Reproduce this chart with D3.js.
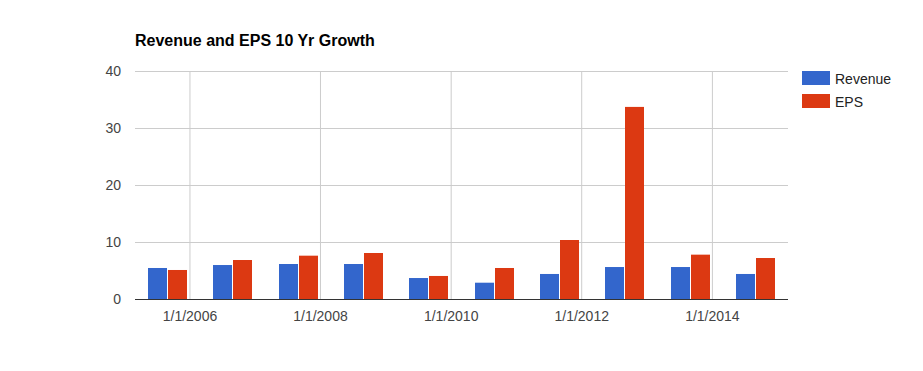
<!DOCTYPE html>
<html><head><meta charset="utf-8">
<script src="https://cdn.jsdelivr.net/npm/d3@7/dist/d3.min.js"></script>
<style>body{margin:0;background:#fff}svg{display:block;font-family:"Liberation Sans",Arial,sans-serif}</style>
</head><body><svg id="c" width="923" height="371"></svg>
<script>
const dates = ["2005-09-01","2006-09-01","2007-09-01","2008-09-01","2009-09-01","2010-09-01","2011-09-01","2012-09-01","2013-09-01","2014-09-01"];
const revenue = [5.44, 5.96, 6.14, 6.14, 3.68, 2.86, 4.39, 5.61, 5.61, 4.39];
const eps = [5.09, 6.84, 7.6, 8.07, 4.04, 5.44, 10.35, 33.7, 7.78, 7.19];
const yTicks = [0, 10, 20, 30, 40];
const xTickDates = ["2006-01-01","2008-01-01","2010-01-01","2012-01-01","2014-01-01"];
const seriesNames = ["Revenue", "EPS"];
const colors = ["#3366cc", "#dc3912"];

const parse = d3.utcParse("%Y-%m-%d");
const dts = dates.map(parse);
const L = 135, R = 788, T = 71, B = 299;
const half = (dts[dts.length-1] - dts[0]) / (dts.length - 1) / 2;
const x = d3.scaleUtc().domain([new Date(+dts[0] - half), new Date(+dts[dts.length-1] + half)]).range([L, R]);
const y = d3.scaleLinear().domain([0, 40]).range([B, T]);
const svg = d3.select("#c");
const FF = "Liberation Sans, Arial, sans-serif";

svg.append("text").attr("x", L).attr("y", 46).attr("font-size", 16).attr("font-weight", "bold").attr("fill", "#000").text("Revenue and EPS 10 Yr Growth");

// horizontal grid
const yAxis = d3.axisLeft(y).tickValues(yTicks).tickSize(-(R - L)).tickFormat(d3.format("d"));
const gy = svg.append("g").attr("transform", `translate(${L},0)`).call(yAxis);
gy.select(".domain").remove();
gy.selectAll(".tick line").attr("stroke", "#cccccc");
gy.selectAll(".tick text").attr("x", -14).attr("font-size", 14).attr("fill", "#444").attr("font-family", FF);

// vertical grid + x labels
const xt = xTickDates.map(parse);
const xAxis = d3.axisBottom(x).tickValues(xt).tickSize(-(B - T)).tickFormat(d3.utcFormat("%-m/%-d/%Y"));
const gx = svg.append("g").attr("transform", `translate(0,${B})`).call(xAxis);
gx.select(".domain").remove();
gx.selectAll(".tick line").attr("stroke", "#cccccc");
gx.selectAll(".tick text").attr("y", 22).attr("dy", 0).attr("font-size", 14).attr("fill", "#444").attr("font-family", FF);

// bars
const bw = 19;
const sets = [revenue, eps];
sets.forEach((vals, s) => {
  svg.append("g").selectAll("rect").data(vals).join("rect")
    .attr("x", (d, i) => Math.floor(x(dts[i])) - 19 + s * 20)
    .attr("y", d => y(d))
    .attr("width", bw)
    .attr("height", d => B - y(d))
    .attr("fill", colors[s]);
});

// baseline
svg.append("line").attr("x1", L).attr("x2", R).attr("y1", B + 0.5).attr("y2", B + 0.5).attr("stroke", "#333").attr("stroke-width", 1);

// legend
const lg = svg.append("g");
seriesNames.forEach((n, i) => {
  const yy = 71 + i * 23;
  lg.append("rect").attr("x", 802).attr("y", yy).attr("width", 28).attr("height", 14).attr("fill", colors[i]);
  lg.append("text").attr("x", 835).attr("y", yy + 12.5).attr("font-size", 14).attr("fill", "#222").text(n);
});
</script></body></html>
